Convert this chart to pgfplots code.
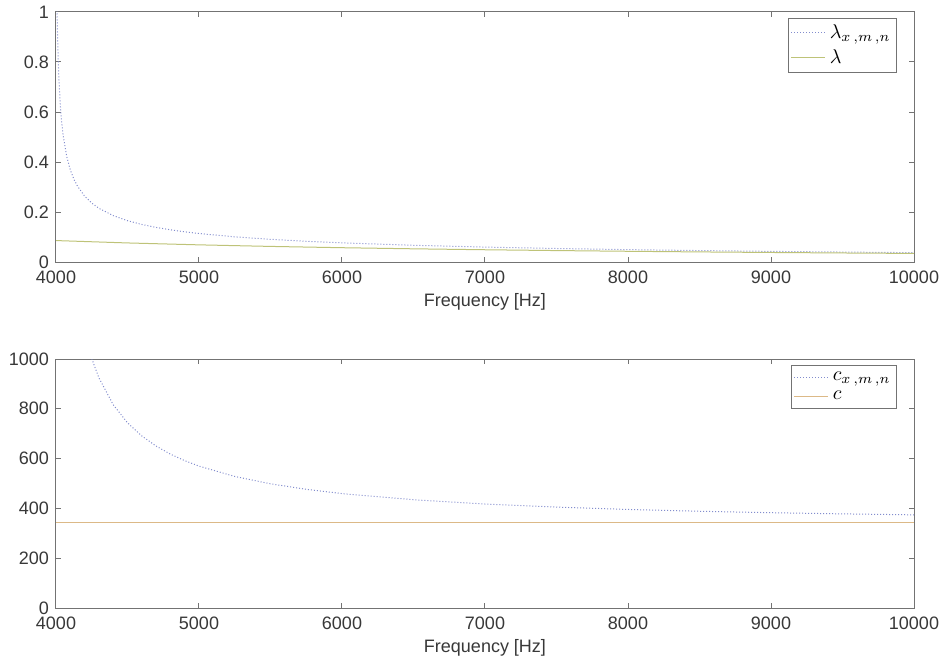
\documentclass[border=0pt]{standalone}
\usepackage{pgfplots}
\pgfplotsset{compat=1.18}
\usepackage{fontspec}
\setmainfont{Liberation Sans}
\definecolor{axgray}{gray}{0.45}
\definecolor{txt}{gray}{0.22}
\definecolor{lblue}{RGB}{130,140,205}
\definecolor{lgreen}{RGB}{190,195,120}
\definecolor{lorange}{RGB}{220,185,135}
\pgfplotsset{mystyle/.style={
  scale only axis, width=429pt,
  xmin=4000, xmax=10000,
  scaled x ticks=false,
  xtick={4000,5000,6000,7000,8000,9000,10000},
  xticklabels={4000,5000,6000,7000,8000,9000,10000},
  tick align=inside, xtick pos=both, ytick pos=both,
  major tick length=2.5pt,
  axis line style={axgray, line width=0.5pt}, tick style={axgray, line width=0.5pt},
  every tick label/.append style={font=\fontsize{9}{10}\selectfont, text=txt},
  xticklabel style={yshift=-1pt},
  /pgf/number format/assume math mode=true,
  /pgf/number format/1000 sep={},
  xlabel={Frequency [Hz]},
  xlabel style={font=\fontsize{9}{10}\selectfont, text=txt, yshift=2pt},
  legend cell align=left,
  legend style={draw=axgray, font=\fontsize{10}{11}\selectfont, at={(1,1)}, anchor=north east,
    xshift=-8.5pt, yshift=-3pt, inner sep=1pt, row sep=0pt},
}}
\begin{document}
\begin{tikzpicture}
\useasboundingbox (-28pt,-198.5pt) rectangle (446.5pt,131pt);
\begin{axis}[mystyle, height=125pt, at={(0,0)}, anchor=south west,
  ymin=0, ymax=1, ytick={0,0.2,0.4,0.6,0.8,1},
  yticklabels={0,0.2,0.4,0.6,0.8,1}]
\addplot[lblue, densely dotted, line width=0.5pt] coordinates {
(4000,1.4500) (4005,1.1072) (4008,0.9901) (4010,0.9299) (4015,0.8172) (4020,0.7374)
(4030,0.6295) (4040,0.5582) (4050,0.5066) (4075,0.4217) (4100,0.3686) (4125,0.3313)
(4150,0.3034) (4200,0.2634) (4250,0.2357) (4300,0.21497) (4400,0.18558) (4500,0.16530)
(4600,0.15019) (4700,0.13836) (4800,0.12876) (4900,0.12077) (5000,0.11398) (5250,0.10063)
(5500,0.09069) (5750,0.08290) (6000,0.07659) (6500,0.06688) (7000,0.05966) (7500,0.05403)
(8000,0.04948) (8500,0.04571) (9000,0.04253) (9500,0.03979) (10000,0.03741)};
\addlegendentry{$\lambda_{x\,,m\,,n}$}
\addplot[lgreen, line width=0.5pt] coordinates {
(4000,0.08575) (4500,0.07622) (5000,0.0686) (5500,0.06236) (6000,0.05717) (6500,0.05277)
(7000,0.04900) (7500,0.04573) (8000,0.04288) (8500,0.04035) (9000,0.03811) (9500,0.03611)
(10000,0.0343)};
\addlegendentry{$\lambda$}
\end{axis}
\begin{axis}[mystyle, height=124.5pt, at={(0,-48.5pt)}, anchor=north west,
  ymin=0, ymax=1000, ytick={0,200,400,600,800,1000}]
\addplot[lblue, densely dotted, line width=0.5pt] coordinates {
(4200,1106.2) (4240,1019.9) (4250,1001.5) (4300,924.4) (4400,816.6) (4500,743.8)
(4600,690.9) (4700,650.3) (4800,618.1) (4900,591.8) (5000,569.9) (5250,528.3)
(5500,498.8) (5750,476.7) (6000,459.5) (6500,434.7) (7000,417.6) (7500,405.2)
(8000,395.8) (8500,388.5) (9000,382.7) (9500,378.0) (10000,374.1)};
\addlegendentry{$c_{x\,,m\,,n}$}
\addplot[lorange, line width=0.5pt] coordinates {(4000,343) (7000,343) (10000,343)};
\addlegendentry{$c$}
\end{axis}
\end{tikzpicture}
\end{document}
